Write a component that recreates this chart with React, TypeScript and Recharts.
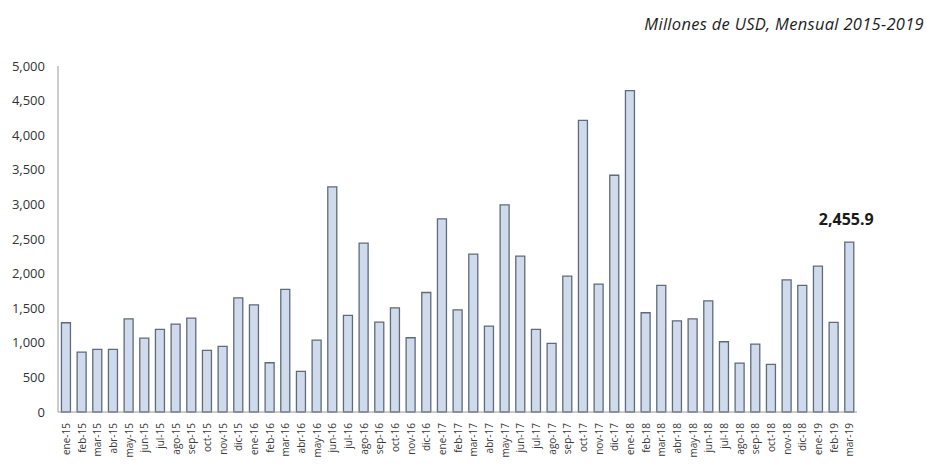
import { BarChart, Bar, XAxis, YAxis } from 'recharts'

const months = [
  'ene-15', 'feb-15', 'mar-15', 'abr-15', 'may-15', 'jun-15', 'jul-15', 'ago-15', 'sep-15', 'oct-15', 'nov-15', 'dic-15',
  'ene-16', 'feb-16', 'mar-16', 'abr-16', 'may-16', 'jun-16', 'jul-16', 'ago-16', 'sep-16', 'oct-16', 'nov-16', 'dic-16',
  'ene-17', 'feb-17', 'mar-17', 'abr-17', 'may-17', 'jun-17', 'jul-17', 'ago-17', 'sep-17', 'oct-17', 'nov-17', 'dic-17',
  'ene-18', 'feb-18', 'mar-18', 'abr-18', 'may-18', 'jun-18', 'jul-18', 'ago-18', 'sep-18', 'oct-18', 'nov-18', 'dic-18',
  'ene-19', 'feb-19', 'mar-19',
]

const values = [
  1290, 866, 905, 905, 1347, 1068, 1193, 1270, 1357, 890, 948, 1650,
  1549, 712, 1771, 587, 1040, 3253, 1395, 2440, 1299, 1506, 1073, 1727,
  2791, 1477, 2281, 1241, 2993, 2252, 1193, 991, 1963, 4215, 1848, 3421,
  4644, 1434, 1829, 1318, 1347, 1607, 1015, 707, 982, 688, 1910, 1829,
  2108, 1294, 2455.9,
]

const yTicks = [0, 500, 1000, 1500, 2000, 2500, 3000, 3500, 4000, 4500, 5000]

const title = 'Millones de USD, Mensual 2015-2019'

const chartData = months.map((m, i) => ({ name: m, value: values[i] }))

const font = '"Open Sans", "Liberation Sans", sans-serif'

// rotated month labels under the axis
function MonthTick(props: any) {
  const { x, y, payload } = props
  return (
    <text
      x={x}
      y={y}
      transform={`rotate(-90, ${x}, ${y})`}
      textAnchor="end"
      dominantBaseline="central"
      fontSize={10}
      fontFamily={font}
      fill="#3a3a3a"
    >
      {payload.value}
    </text>
  )
}

// only the last bar carries a value label
function LastLabel(props: any) {
  const { x, y, width, index, value } = props
  if (index !== values.length - 1) return null
  return (
    <text
      x={x + width / 2 - 3}
      y={y - 17}
      textAnchor="middle"
      fontSize={16}
      fontWeight="bold"
      fontFamily={font}
      fill="#1a1a1a"
    >
      {Number(value).toLocaleString('en-US', { minimumFractionDigits: 1 })}
    </text>
  )
}

export default function App() {
  return (
    <div style={{ position: 'fixed', left: 0, top: 0, width: 927, height: 468, background: '#fff' }}>
      <div
        style={{
          position: 'absolute',
          right: 3,
          top: 12,
          fontFamily: font,
          fontStyle: 'italic',
          fontSize: 16.5,
          letterSpacing: 0.3,
          color: '#1e1e1e',
          whiteSpace: 'nowrap',
        }}
      >
        {title}
      </div>
      <BarChart
        width={927}
        height={468}
        data={chartData}
        margin={{ top: 66, right: 70, bottom: 0, left: 0 }}
        barCategoryGap="22%"
      >
        <XAxis
          dataKey="name"
          interval={0}
          height={56}
          tickLine={false}
          tickSize={0}
          tickMargin={11}
          axisLine={{ stroke: '#9a9a9a' }}
          tick={<MonthTick />}
        />
        <YAxis
          domain={[0, 5000]}
          ticks={yTicks}
          width={58}
          tickLine={false}
          tickSize={0}
          tickMargin={13}
          axisLine={{ stroke: '#9a9a9a' }}
          tick={{ fontSize: 13, fontFamily: font, fill: '#333' }}
          tickFormatter={(v: number) => v.toLocaleString('en-US')}
        />
        <Bar
          dataKey="value"
          fill="#cfdbec"
          stroke="#5f6b7a"
          strokeWidth={1.3}
          isAnimationActive={false}
          label={<LastLabel />}
        />
      </BarChart>
    </div>
  )
}
